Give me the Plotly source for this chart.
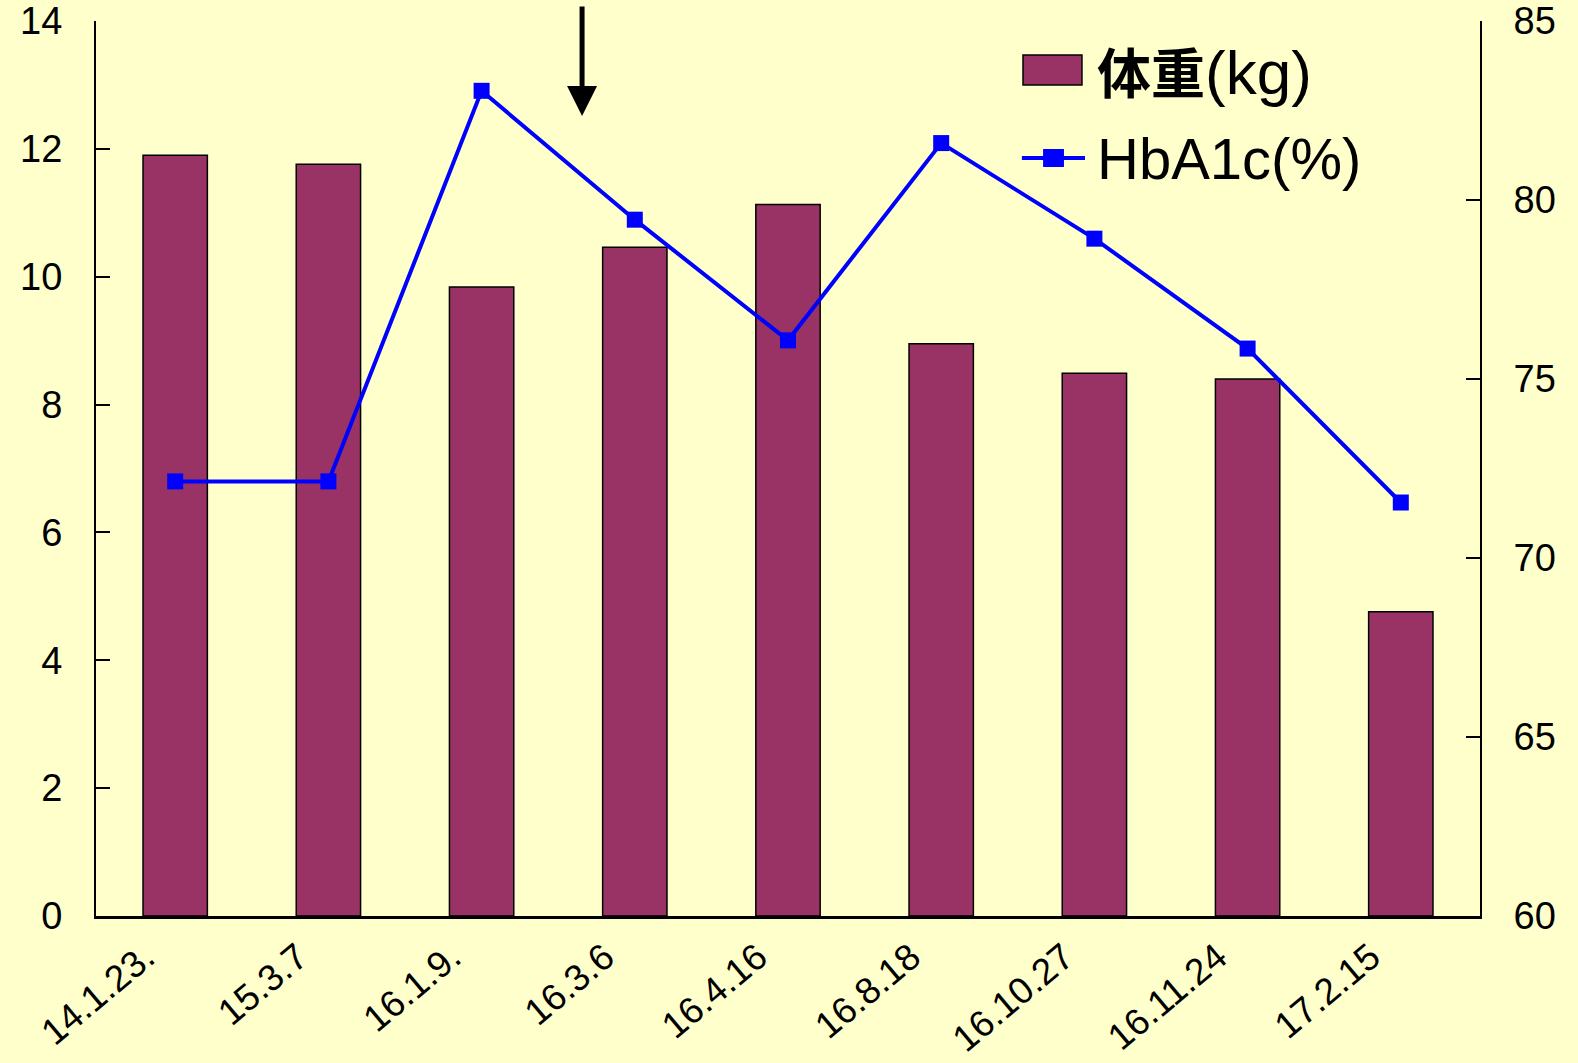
import plotly.graph_objects as go

categories = ["14.1.23.", "15.3.7", "16.1.9.", "16.3.6", "16.4.16", "16.8.18", "16.10.27", "16.11.24", "17.2.15"]
weight_values = [11.9, 11.76, 9.84, 10.46, 11.13, 8.95, 8.49, 8.4, 4.76]
hba1c_values = [72.14, 72.14, 83.05, 79.45, 76.08, 81.59, 78.92, 75.85, 71.55]
left_ticks = [0, 2, 4, 6, 8, 10, 12, 14]
right_ticks = [60, 65, 70, 75, 80, 85]

BG = "#FFFFCC"
BAR = "#993366"
LINE = "#0000FF"
FONT = "Liberation Sans, Arial, sans-serif"

fig = go.Figure()
fig.add_trace(go.Bar(
    x=categories, y=weight_values, name="体重(kg)",
    marker=dict(color=BAR, line=dict(color="black", width=1.5)),
    yaxis="y", showlegend=False,
))
fig.add_trace(go.Scatter(
    x=categories, y=hba1c_values, name="HbA1c(%)", mode="lines+markers",
    line=dict(color=LINE, width=4),
    marker=dict(symbol="square", size=16, color=LINE),
    yaxis="y2", showlegend=False,
))

fig.update_layout(
    width=1578, height=1063,
    paper_bgcolor=BG, plot_bgcolor=BG,
    margin=dict(l=96, r=98, t=21, b=147),
    bargap=0.58,
    font=dict(family=FONT, color="black"),
    xaxis=dict(
        type="category", tickangle=-40, showgrid=False, showline=True,
        linecolor="black", linewidth=2.5, ticks="", tickfont=dict(size=37),
        zeroline=False, automargin=False, ticklabelshift=-30,
        ticklabelstandoff=2, ticklabeloverflow="allow",
    ),
    yaxis=dict(
        range=[0, 14], tickvals=left_ticks, showgrid=False, showline=True,
        linecolor="black", linewidth=2, ticks="inside", ticklen=14, tickwidth=2,
        tickcolor="black", tickfont=dict(size=38), zeroline=False,
        ticklabelstandoff=24, automargin=False, ticklabeloverflow="allow",
    ),
    yaxis2=dict(
        range=[60, 85], tickvals=right_ticks, overlaying="y", side="right",
        showgrid=False, showline=True, linecolor="black", linewidth=2,
        ticks="inside", ticklen=14, tickwidth=2, tickcolor="black",
        tickfont=dict(size=38), zeroline=False, ticklabelstandoff=24,
        automargin=False, ticklabeloverflow="allow",
    ),
)

# custom legend
fig.add_shape(type="rect", xref="paper", yref="paper",
              x0=0.6698, x1=0.7124, y0=0.9285, y1=0.962,
              fillcolor=BAR, line=dict(color="black", width=1.5))
fig.add_shape(type="line", xref="paper", yref="paper",
              x0=0.669, x1=0.7146, y0=0.8469, y1=0.8469,
              line=dict(color=LINE, width=4))
fig.add_shape(type="rect", xref="paper", yref="paper",
              x0=0.6843, x1=0.6994, y0=0.8369, y1=0.857,
              fillcolor=LINE, line=dict(color=LINE, width=0))
fig.add_annotation(xref="paper", yref="paper", x=0.722, y=0.943,
                   xanchor="left", yanchor="middle", showarrow=False,
                   text="<b>体重</b><span style='font-size:62px'>(kg)</span>",
                   font=dict(size=54, family="Liberation Sans, Noto Sans CJK SC, sans-serif"))
fig.add_annotation(xref="paper", yref="paper", x=0.722, y=0.8469,
                   xanchor="left", yanchor="middle", showarrow=False,
                   text="HbA1c(%)", font=dict(size=58, family=FONT))

# arrow
fig.add_annotation(xref="paper", yref="paper", x=0.3512, y=0.8939,
                   ax=0, ay=-111, showarrow=True, text="",
                   arrowhead=2, arrowsize=1.2, arrowwidth=5, arrowcolor="black")

fig.write_html(
    "out.html",
    config={"displayModeBar": False},
    post_script="document.body.style.margin='0';"
                "document.body.style.backgroundColor='#FFFFCC';"
                "document.body.style.overflow='hidden';",
)
